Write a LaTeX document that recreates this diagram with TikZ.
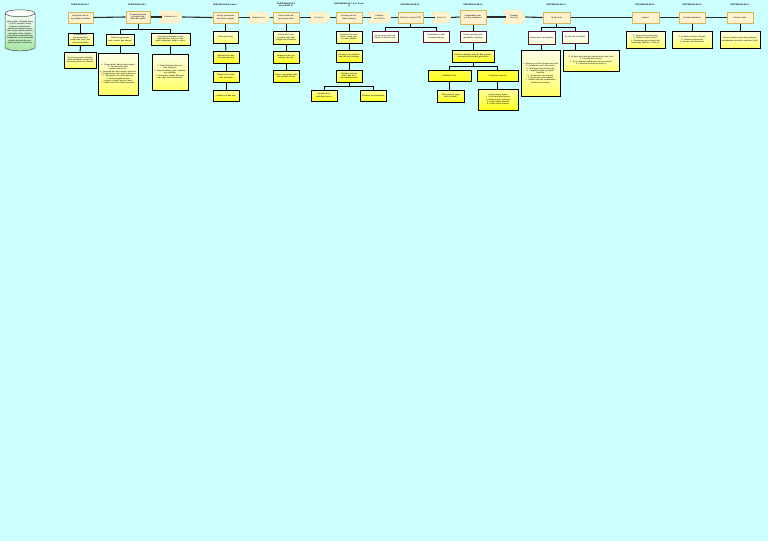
\documentclass[tikz,border=0pt]{standalone}
\usepackage{fontspec}
\setmainfont{Liberation Sans}
\usetikzlibrary{shapes.geometric,shapes.symbols}

\definecolor{bgcyan}{HTML}{CCFFFF}
\definecolor{headfill}{HTML}{FFF2CC}
\definecolor{headline}{HTML}{D6B656}
\definecolor{stepfill}{HTML}{FFF2CC}
\definecolor{maroonline}{HTML}{5C0F2E}
\definecolor{linkgray}{HTML}{2A2A2A}
\definecolor{leafyellow}{HTML}{FFFF66}
\definecolor{cylgreen}{HTML}{A6E8A6}

\newcommand{\tinyfont}{\fontsize{2}{2.35}\selectfont}

\tikzset{
  head/.style={rectangle, draw=headline, line width=1pt, fill=headfill,
    inner sep=0.5pt, align=center, font=\tinyfont},
  stepbox/.style={signal, signal to=east, signal from=west, signal pointer angle=125,
    draw=headfill!60!headline, line width=0.3pt, fill=stepfill, inner sep=0.5pt,
    align=center, font=\tinyfont},
  leaf/.style={rectangle, draw=black, line width=1pt, top color=yellow!8,
    bottom color=leafyellow, inner sep=0.6pt, align=center, font=\tinyfont},
  leafm/.style={leaf, draw=maroonline, top color=white, bottom color=yellow!18},
  leafy/.style={leaf, top color=leafyellow!60, bottom color=yellow!90},
  meet/.style={font=\tinyfont\bfseries, align=center, inner sep=0pt},
  link/.style={draw=linkgray, line width=1.1pt},
  stem/.style={draw=black, line width=1pt}
}

\begin{document}
\begin{tikzpicture}[x=1pt, y=-1pt]
	\fill[bgcyan] (0,0) rectangle (768,541);
	\useasboundingbox (0,0) rectangle (768,541);

	% course description
	\node(Cyl) at (20,32.5)[cylinder, shape border rotate=90, aspect=0.25, draw=black!70,
		line width=0.5pt, top color=white, bottom color=cylgreen, minimum width=30pt,
		minimum height=41pt, inner sep=0.3pt, text width=27pt, align=center, font=\tinyfont]
		{Mata Kuliah: Statistika Dasar\\ (3 SKS) Semester Ganjil\\ Capaian Pembelajaran:\\
		Mahasiswa mampu memahami konsep dasar statistika, menyajikan data, menghitung
		ukuran pemusatan dan penyebaran, serta melakukan analisis peluang dan pengujian
		hipotesis sederhana};

	% labels of the meetings
	\node(L1) at (80,5)[meet]{PERTEMUAN KE-1};
	\node(L2) at (137,5)[meet]{PERTEMUAN KE-2};
	\node(L3) at (225,5)[meet]{PERTEMUAN KE-3 dan 4};
	\node(L4) at (286,5)[meet]{PERTEMUAN KE-5\\ dan 6 (KUIS 1)};
	\node(L5) at (349,5)[meet]{PERTEMUAN KE-7, 8, 9, 10 dan\\ 11};
	\node(L6) at (410,5)[meet]{PERTEMUAN KE-12};
	\node(L7) at (473,5)[meet]{PERTEMUAN KE-13};
	\node(L8) at (556,5)[meet]{PERTEMUAN KE-14};
	\node(L9) at (645,5)[meet]{PERTEMUAN KE-15};
	\node(L10) at (692,5)[meet]{PERTEMUAN KE-16};
	\node(L11) at (740,5)[meet]{PERTEMUAN KE-17};

	% main topics
	\node(H1) at (80.5,17.5)[head, minimum width=25pt, minimum height=11pt, text width=23pt]{Pengertian dan ruang lingkup statistika};
	\node(H2) at (138,17)[head, minimum width=24pt, minimum height=12pt, text width=22pt]{Pengumpulan dan penyajian data (tabel dan grafik)};
	\node(S1) at (170.5,17)[stepbox, minimum width=23pt, minimum height=12pt, text width=15pt]{Evaluasi Ke-1};
	\node(H3) at (225.5,17.5)[head, minimum width=25pt, minimum height=11pt, text width=23pt]{Ukuran pemusatan data (data tunggal)};
	\node(S2) at (258.5,17.5)[stepbox, minimum width=23pt, minimum height=11pt, text width=15pt]{Evaluasi Ke-2};
	\node(H4) at (286,17.5)[head, minimum width=26pt, minimum height=11pt, text width=24pt]{Ukuran letak dan penyebaran data};
	\node(S3) at (319,17.5)[stepbox, minimum width=22pt, minimum height=11pt, text width=14pt]{Kuis Ke-1};
	\node(H5) at (349,17.5)[head, minimum width=26pt, minimum height=11pt, text width=24pt]{Peluang dan distribusi peluang};
	\node(S4) at (379.5,17.5)[stepbox, minimum width=23pt, minimum height=11pt, text width=15pt]{Evaluasi Ke-3 (UTS)};
	\node(H6) at (410.5,17.5)[head, minimum width=25pt, minimum height=11pt, text width=23pt]{Distribusi normal (UTS)};
	\node(S5) at (441.5,17.5)[stepbox, minimum width=19pt, minimum height=11pt, text width=12pt]{Kuis Ke-2};
	\node(H7) at (473,17)[head, minimum width=26pt, minimum height=14pt, text width=24pt]{Pengambilan sampel dan penaksiran};
	\node(S6) at (514,17)[stepbox, minimum width=22pt, minimum height=14pt, text width=14pt]{Evaluasi Ke-4 (4)};
	\node(H8) at (556.5,17.5)[head, minimum width=27pt, minimum height=11pt, text width=25pt]{Uji hipotesis};
	\node(H9) at (645.5,17.5)[head, minimum width=27pt, minimum height=11pt, text width=25pt]{Regresi};
	\node(H10) at (692,17.5)[head, minimum width=26pt, minimum height=11pt, text width=24pt]{Korelasi sederhana};
	\node(H11) at (740,17.5)[head, minimum width=26pt, minimum height=11pt, text width=24pt]{Review materi};

	% sub topics
	\node(A1) at (80.5,39)[leaf, minimum width=25pt, minimum height=12pt, text width=22pt]{Mahasiswa dapat menjelaskan pengertian, jenis, dan peranan statistika};
	\node(A2) at (80,60)[leaf, minimum width=32pt, minimum height=16pt, text width=29pt]{Contoh penerapan statistika dalam kehidupan sehari-hari dan bidang ilmu lain (diskusi)};
	\node(B1) at (120,39.5)[leaf, minimum width=28pt, minimum height=11pt, text width=25pt]{Teknik pengumpulan data: sensus dan sampel};
	\node(B2) at (118,74)[leaf, minimum width=40pt, minimum height=42pt, text width=37pt]{1. Pengumpulan data melalui angket\\ 2. Pengumpulan data melalui wawancara\\ 3. Pengumpulan data melalui observasi\\ 4. Pengumpulan data melalui dokumen\\ 5. Data primer dan data sekunder\\ 6. Skala pengukuran data\\ (nominal, ordinal, interval, rasio)\\ 7. Latihan soal dan diskusi kelompok};
	\node(C1) at (170.5,39)[leaf, minimum width=39pt, minimum height=12pt, text width=36pt]{Penyajian data dalam bentuk tabel distribusi frekuensi dan grafik (histogram, poligon, ogive)};
	\node(C2) at (170,72)[leaf, minimum width=36pt, minimum height=36pt, text width=33pt]{1. Tabel distribusi frekuensi\\ data kelompok\\ 2. Diagram batang, garis, lingkaran\\ dan lambang\\ 3. Histogram, poligon frekuensi\\ dan ogive (kurva frekuensi)};
	\node(D1) at (225.5,37)[leaf, minimum width=25pt, minimum height=12pt, text width=22pt]{Rata-rata hitung};
	\node(D2) at (226,57)[leafy, minimum width=26pt, minimum height=12pt, text width=23pt]{Rata-rata ukur dan rata-rata harmonis};
	\node(D3) at (226,76.5)[leafy, minimum width=26pt, minimum height=11pt, text width=23pt]{Median dan modus data kelompok};
	\node(D4) at (226,95.5)[leafy, minimum width=26pt, minimum height=11pt, text width=23pt]{Latihan soal dan kuis};
	\node(E1) at (286,37.5)[leaf, minimum width=26pt, minimum height=13pt, text width=23pt]{Kuartil, desil, dan persentil untuk data tunggal dan kelompok};
	\node(E2) at (286,57)[leafy, minimum width=26pt, minimum height=12pt, text width=23pt]{Jangkauan dan simpangan rata-rata};
	\node(E3) at (286,76)[leafy, minimum width=26pt, minimum height=12pt, text width=23pt]{Varians, simpangan baku dan koefisien variasi};
	\node(F1) at (349,37)[leaf, minimum width=26pt, minimum height=12pt, text width=23pt]{Permutasi dan kombinasi, ruang sampel dan kejadian};
	\node(F2) at (349,56)[leafy, minimum width=26pt, minimum height=12pt, text width=23pt]{Peluang suatu kejadian dan frekuensi harapan};
	\node(F3) at (349,76)[leafy, minimum width=26pt, minimum height=12pt, text width=23pt]{Distribusi peluang diskrit dan kontinu (variabel acak)};
	\node(F4) at (324,95.5)[leafy, minimum width=26pt, minimum height=11pt, text width=23pt]{Distribusi binomial dan poisson};
	\node(F5) at (373,95.5)[leafy, minimum width=26pt, minimum height=11pt, text width=23pt]{Distribusi hipergeometrik};
	\node(G1) at (385,36.5)[leafm, minimum width=26pt, minimum height=11pt, text width=23pt]{Kurva normal dan luas daerah di bawah kurva};
	\node(G2) at (436,36.5)[leafm, minimum width=26pt, minimum height=11pt, text width=23pt]{Pendekatan normal terhadap binomial};
	\node(K1) at (473,36.5)[leafm, minimum width=26pt, minimum height=11pt, text width=23pt]{Teknik sampling acak (probability sampling)};
	\node(K2) at (473,56)[leafy, minimum width=42pt, minimum height=12pt, text width=39pt]{Distribusi sampling rata-rata dan proporsi, teorema limit pusat dan galat baku};
	\node(K3) at (449.5,75.5)[leafy, top color=yellow!70, minimum width=43pt, minimum height=11pt, text width=40pt]{Penaksiran titik};
	\node(K4) at (497.5,75.5)[leafy, top color=yellow!70, minimum width=41pt, minimum height=11pt, text width=38pt]{Penaksiran interval};
	\node(K5) at (450.5,96)[leafy, minimum width=27pt, minimum height=12pt, text width=24pt]{Sifat penaksir yang baik (tak bias)};
	\node(K6) at (498,99.5)[leafy, minimum width=40pt, minimum height=21pt, text width=37pt]{Interval kepercayaan\\ 1. Untuk rata-rata populasi\\ 2. Untuk proporsi populasi\\ 3. Untuk selisih rata-rata\\ 4. Untuk selisih proporsi};
	\node(M1) at (541.5,37.5)[leafm, minimum width=27pt, minimum height=13pt, text width=24pt]{Konsep dasar uji hipotesis};
	\node(M2) at (575,37)[leafm, minimum width=26pt, minimum height=12pt, text width=23pt]{Uji satu dan dua pihak};
	\node(M3) at (540.5,73)[leaf, minimum width=39pt, minimum height=46pt, text width=36pt]{1. Hipotesis nol dan hipotesis alternatif\\ 2. Kesalahan jenis I dan jenis II\\ 3. Taraf nyata dan daerah kritis\\ 4. Langkah-langkah pengujian\\ hipotesis\\ 5. Uji rata-rata satu populasi\\ 6. Uji proporsi satu populasi\\ 7. Latihan soal dan pembahasan\\ bersama mahasiswa};
	\node(M4) at (591,60.5)[leaf, minimum width=56pt, minimum height=21pt, text width=53pt]{1. Uji beda dua rata-rata (sampel besar dan kecil)\\ 2. Uji beda dua proporsi\\ 3. Uji chi-kuadrat (kebebasan dan kecocokan)\\ 4. Penarikan kesimpulan hasil uji};
	\node(N1) at (645.5,39.5)[leaf, minimum width=39pt, minimum height=17pt, text width=36pt]{1. Regresi linier sederhana\\ 2. Metode kuadrat terkecil\\ 3. Persamaan garis regresi dan\\ peramalan (latihan 1, 2 dan 3)};
	\node(N2) at (692,39.5)[leaf, minimum width=40pt, minimum height=17pt, text width=37pt]{1. Koefisien korelasi Pearson\\ 2. Koefisien determinasi\\ 3. Korelasi rank Spearman};
	\node(N3) at (740,39.5)[leaf, minimum width=40pt, minimum height=17pt, text width=37pt]{Review seluruh materi dan persiapan menghadapi ujian akhir semester (UAS)};

	% junctions of the branches
	\coordinate(j2) at (138,29);
	\coordinate(j5) at (349,86);
	\coordinate(j6) at (410.5,27);
	\coordinate(j7) at (473,66);
	\coordinate(j8) at (556.5,27);

	% main line
	\draw [link] (H1.east) -- (H2.west);
	\draw [link] (H2.east) -- (S1.west);
	\draw [link] (S1.east) -- (H3.west);
	\draw [link] (H3.east) -- (S2.west);
	\draw [link] (S2.east) -- (H4.west);
	\draw [link] (H4.east) -- (S3.west);
	\draw [link] (S3.east) -- (H5.west);
	\draw [link] (H5.east) -- (S4.west);
	\draw [link] (S4.east) -- (H6.west);
	\draw [link] (H6.east) -- (S5.west);
	\draw [link] (S5.east) -- (H7.west);
	\draw [link] (H7.east) -- (S6.west);
	\draw [link] (S6.east) -- (H8.west);
	\draw [link] (H8.east) -- (H9.west);
	\draw [link] (H9.east) -- (H10.west);
	\draw [link] (H10.east) -- (H11.west);

	% branches
	\draw [stem] (H1) -- (A1);
	\draw [stem] (A1) -- (A2);
	\draw [stem] (H2) -- (j2) -| (B1);
	\draw [stem] (j2) -| (C1);
	\draw [stem] (B1) -- (B1 |- B2.north);
	\draw [stem] (C1) -- (C1 |- C2.north);
	\draw [stem] (H3) -- (D1);
	\draw [stem] (D1) -- (D2);
	\draw [stem] (D2) -- (D3);
	\draw [stem] (D3) -- (D4);
	\draw [stem] (H4) -- (E1);
	\draw [stem] (E1) -- (E2);
	\draw [stem] (E2) -- (E3);
	\draw [stem] (H5) -- (F1);
	\draw [stem] (F1) -- (F2);
	\draw [stem] (F2) -- (F3);
	\draw [stem] (F3) -- (j5) -| (F4);
	\draw [stem] (j5) -| (F5);
	\draw [stem] (H6) -- (j6) -| (G1);
	\draw [stem] (j6) -| (G2);
	\draw [stem] (H7) -- (K1);
	\draw [stem] (K1) -- (K2);
	\draw [stem] (K2) -- (j7) -| (K3);
	\draw [stem] (j7) -| (K4);
	\draw [stem] (K3) -- (K3 |- K5.north);
	\draw [stem] (K4) -- (K4 |- K6.north);
	\draw [stem] (H8) -- (j8) -| (M1);
	\draw [stem] (j8) -| (M2);
	\draw [stem] (M1) -- (M1 |- M3.north);
	\draw [stem] (M2) -- (M2 |- M4.north);
	\draw [stem] (H9) -- (N1);
	\draw [stem] (H10) -- (N2);
	\draw [stem] (H11) -- (N3);
\end{tikzpicture}
\end{document}
